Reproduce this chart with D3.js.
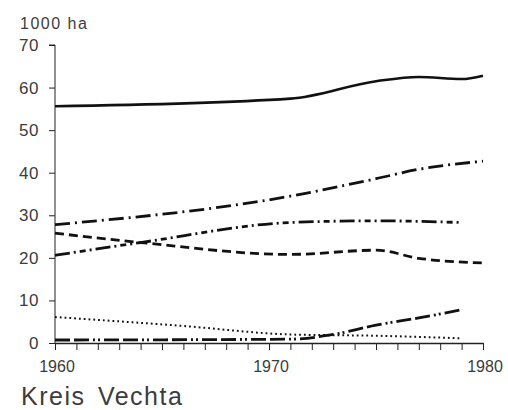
<!DOCTYPE html>
<html>
<head>
<meta charset="utf-8">
<script src="https://cdn.jsdelivr.net/npm/d3@7"></script>
<style>
  body { margin: 0; background: #fff; }
  text { font-family: "Liberation Sans", sans-serif; fill: #3c3c3c; }
</style>
</head>
<body>
<svg width="508" height="410"></svg>
<script>
const yearTicks = d3.range(1960, 1981);
const yearLabels = [1960, 1970, 1980];
const valueTicks = [0, 10, 20, 30, 40, 50, 60, 70];

// landwirtschaftlich genutzte Flaeche
const lfYears = [1960, 1971, 1975, 1977, 1979, 1980];
const lfValues = [55.6, 57.4, 61.5, 62.5, 62.0, 62.8];
// Ackerland
const ackerYears = [1960, 1971, 1975, 1977, 1980];
const ackerValues = [27.8, 34.5, 38.6, 40.8, 42.7];
// Getreide
const getreideYears = [1960, 1964, 1971, 1975, 1979];
const getreideValues = [20.6, 23.6, 28.3, 28.7, 28.3];
// Gruenland
const gruenYears = [1960, 1964, 1971, 1975, 1977, 1980];
const gruenValues = [25.8, 23.6, 20.8, 21.8, 19.9, 18.8];
// Hackfruechte
const hackYears = [1960, 1966, 1971, 1975, 1979];
const hackValues = [6.1, 4.0, 2.0, 1.7, 1.1];
// Mais
const maisYears = [1960, 1971, 1973, 1975, 1977, 1979];
const maisValues = [0.7, 0.9, 2.0, 4.2, 5.9, 7.8];

const svg = d3.select("svg");

const x = d3.scaleLinear().domain([1960, 1980]).range([55, 483]);
const y = d3.scaleLinear().domain([0, 70]).range([343, 45]);

const series = [
  {years: lfYears, values: lfValues, dash: null, width: 2.6},
  {years: ackerYears, values: ackerValues, dash: "15,5,2,5", width: 2.8},
  {years: getreideYears, values: getreideValues, dash: "15,4,2,4,6,4,2,4", width: 2.8},
  {years: gruenYears, values: gruenValues, dash: "9,5", width: 2.8},
  {years: hackYears, values: hackValues, dash: "1.8,3", width: 2},
  {years: maisYears, values: maisValues, dash: "15,4,15,4,2,3,2,4", width: 2.8}
].map(s => ({...s, points: s.years.map((yr, i) => [yr, s.values[i]])}));

// y axis
const yAxis = svg.append("g")
  .attr("transform", `translate(${x(1960)},0)`)
  .call(d3.axisLeft(y).tickValues(valueTicks).tickSize(6).tickPadding(10).tickFormat(d3.format("d")));
yAxis.select(".domain").attr("d", `M-6,${y(70)}H0V${y(0)}`).attr("stroke", "#222");
yAxis.selectAll("line").attr("stroke", "#222");
yAxis.selectAll("text")
  .attr("font-size", 17)
  .attr("font-family", "Liberation Sans, sans-serif")
  .attr("fill", "#3c3c3c")
  .attr("letter-spacing", 0.5);

// x axis
const xAxis = svg.append("g")
  .attr("transform", `translate(0,${y(0)})`)
  .call(d3.axisBottom(x).tickValues(yearTicks).tickSize(7).tickSizeOuter(0).tickFormat(""));
xAxis.selectAll("line").attr("stroke", "#222");
xAxis.select(".domain").attr("stroke", "#222").attr("stroke-width", 1.5);

svg.append("g")
  .selectAll("text")
  .data(yearLabels)
  .join("text")
  .attr("x", d => x(d) + 2)
  .attr("y", 372)
  .attr("text-anchor", "middle")
  .attr("font-size", 16)
  .text(d => d);

svg.append("text")
  .attr("x", 20)
  .attr("y", 29)
  .attr("font-size", 16)
  .attr("letter-spacing", 1.5)
  .text("1000 ha");

svg.append("text")
  .attr("x", 21)
  .attr("y", 405)
  .attr("font-size", 25)
  .attr("letter-spacing", 1.5)
  .attr("word-spacing", 4)
  .text("Kreis Vechta");

const line = d3.line()
  .x(d => x(d[0]))
  .y(d => y(d[1]))
  .curve(d3.curveMonotoneX);

svg.append("g")
  .selectAll("path")
  .data(series)
  .join("path")
  .attr("d", d => line(d.points))
  .attr("fill", "none")
  .attr("stroke", "#111")
  .attr("stroke-width", d => d.width)
  .attr("stroke-dasharray", d => d.dash);
</script>
</body>
</html>
